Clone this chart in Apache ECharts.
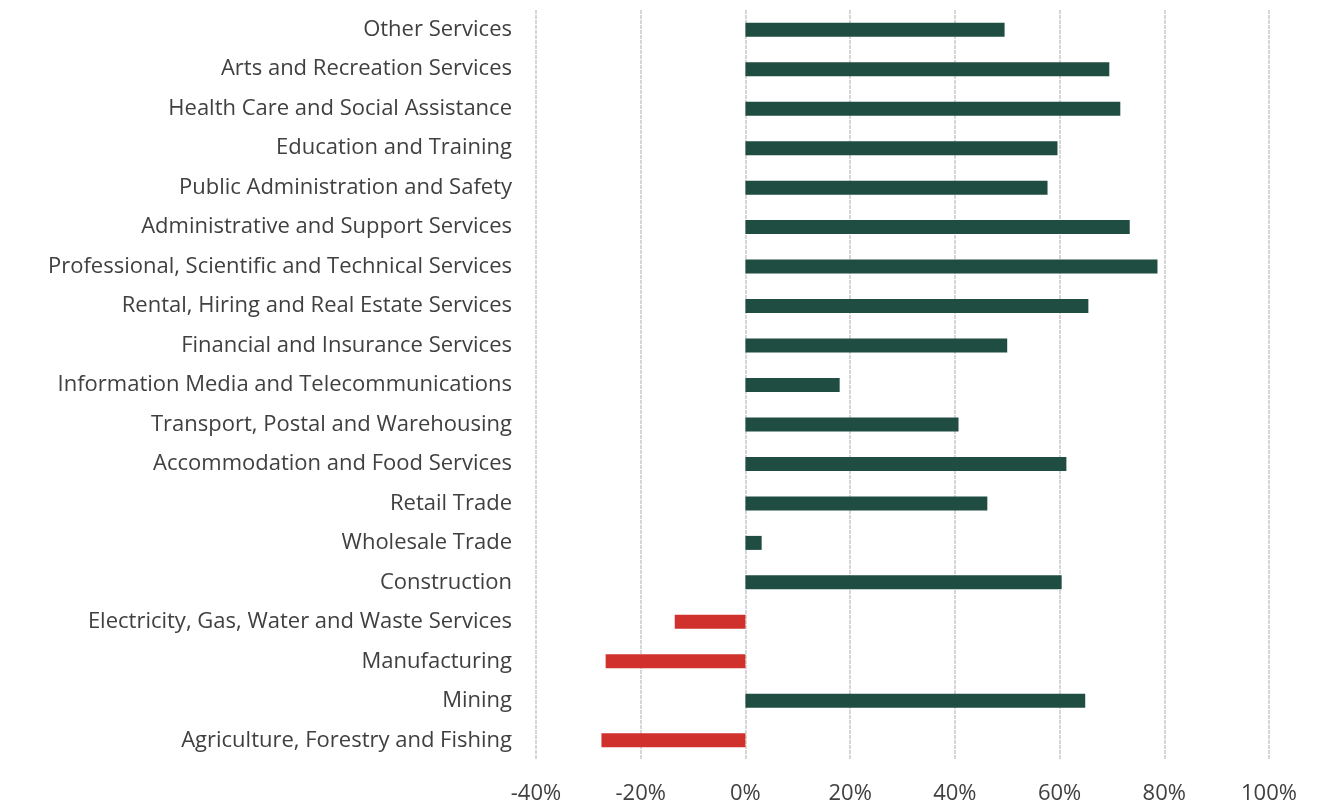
<!DOCTYPE html>
<html>
<head>
<meta charset="utf-8">
<script src="https://cdn.jsdelivr.net/npm/echarts@6/dist/echarts.min.js"></script>
<style>html,body{margin:0;padding:0;background:#fff;}#c{width:1329px;height:805px;}</style>
</head>
<body>
<div id="c"></div>
<script>
const categories = [
  "Other Services",
  "Arts and Recreation Services",
  "Health Care and Social Assistance",
  "Education and Training",
  "Public Administration and Safety",
  "Administrative and Support Services",
  "Professional, Scientific and Technical Services",
  "Rental, Hiring and Real Estate Services",
  "Financial and Insurance Services",
  "Information Media and Telecommunications",
  "Transport, Postal and Warehousing",
  "Accommodation and Food Services",
  "Retail Trade",
  "Wholesale Trade",
  "Construction",
  "Electricity, Gas, Water and Waste Services",
  "Manufacturing",
  "Mining",
  "Agriculture, Forestry and Fishing"
];
const values = [49.5, 69.5, 71.6, 59.6, 57.7, 73.4, 78.7, 65.5, 50.0, 18.0, 40.7, 61.3, 46.2, 3.1, 60.4, -13.5, -26.7, 64.9, -27.5];
const xMin = -40, xMax = 100, xStep = 20;
const posColor = "#1f4d41";
const negColor = "#d0312d";

const chart = echarts.init(document.getElementById('c'), null, {renderer: 'canvas'});
chart.setOption({
  animation: false,
  backgroundColor: '#fff',
  grid: {left: 536, right: 60, top: 10, bottom: 45, containLabel: false},
  xAxis: {
    type: 'value', min: xMin, max: xMax, interval: xStep,
    axisLine: {show: false}, axisTick: {show: false},
    axisLabel: {formatter: v => v + '%', color: '#404040', fontSize: 22, fontFamily: 'Open Sans', margin: 23},
    splitLine: {show: true, lineStyle: {color: '#d6d6d6', width: 2, type: [4, 1]}}
  },
  yAxis: {
    type: 'category', data: categories, inverse: true,
    axisLine: {show: false}, axisTick: {show: false},
    axisLabel: {color: '#404040', fontSize: 22, fontFamily: 'Open Sans', margin: 24},
    splitLine: {show: false}
  },
  series: [{
    type: 'bar',
    data: values.map(v => ({value: v, itemStyle: {color: v < 0 ? negColor : posColor}})),
    barWidth: 14
  }]
});
</script>
</body>
</html>
